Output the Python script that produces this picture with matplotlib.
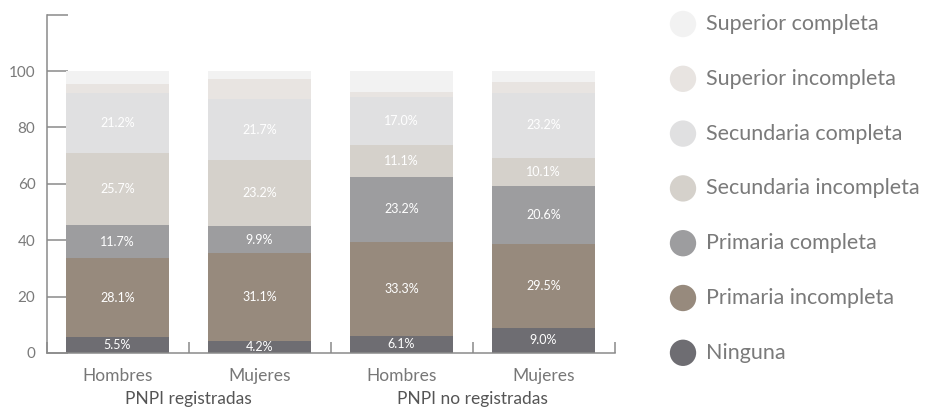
import matplotlib
matplotlib.use("Agg")
import matplotlib.pyplot as plt
import numpy as np

plt.rcParams['font.family'] = ['Lato', 'DejaVu Sans']

groups = ["Hombres", "Mujeres", "Hombres", "Mujeres"]
supergroups = ["PNPI registradas", "PNPI no registradas"]

categories = ["Ninguna", "Primaria incompleta", "Primaria completa",
              "Secundaria incompleta", "Secundaria completa",
              "Superior incompleta", "Superior completa"]
ninguna = [5.5, 4.2, 6.1, 9.0]
prim_inc = [28.1, 31.1, 33.3, 29.5]
prim_comp = [11.7, 9.9, 23.2, 20.6]
sec_inc = [25.7, 23.2, 11.1, 10.1]
sec_comp = [21.2, 21.7, 17.0, 23.2]
sup_inc = [3.2, 7.1, 1.9, 3.7]
sup_comp = [4.6, 2.8, 7.4, 3.9]
series = [ninguna, prim_inc, prim_comp, sec_inc, sec_comp, sup_inc, sup_comp]
show_labels = [True, True, True, True, True, False, False]
colors = ["#6e6d72", "#978a7d", "#9d9d9f", "#d5d1cb", "#e0e0e1", "#e8e4e1", "#f2f2f2"]
yticks = [0, 20, 40, 60, 80, 100]

W, H = 927, 409
fig = plt.figure(figsize=(W / 100, H / 100), dpi=100)
ax = fig.add_axes([46.5 / W, (H - 353) / H, (614.5 - 46.5) / W, (353 - 14.7) / H])

x = np.arange(len(groups))
bottom = np.zeros(len(groups))
for vals, col, lab in zip(series, colors, show_labels):
    vals = np.array(vals)
    ax.bar(x, vals, bottom=bottom, width=0.725, color=col, edgecolor='none', zorder=2)
    if lab:
        for xi, b, v in zip(x, bottom, vals):
            ax.text(xi, b + v / 2, f"{v:.1f}%", ha='center', va='center',
                    color='white', fontsize=9, zorder=3)
    bottom += vals

ax.set_xlim(-0.5, len(groups) - 0.5)
ax.set_ylim(0, 120)
for s in ['top', 'right']:
    ax.spines[s].set_visible(False)
for s in ['left', 'bottom']:
    ax.spines[s].set_color('#8a8a8a')
    ax.spines[s].set_linewidth(1.1)

ax.set_yticks(yticks + [120])
ax.set_yticklabels([str(t) for t in yticks] + [""])
ax.tick_params(axis='y', direction='in', length=15, width=1.1, color='#8a8a8a',
               labelcolor='#7a7a7a', labelsize=11, pad=8)
ax.set_xticks(x)
ax.set_xticklabels(groups)
ax.tick_params(axis='x', which='major', length=0, labelcolor='#777777', labelsize=12.5, pad=11)
ax.set_xticks(np.arange(len(groups) + 1) - 0.5, minor=True)
ax.tick_params(axis='x', which='minor', direction='in', length=8, width=1.1, color='#8a8a8a')

# group labels
for i, g in enumerate(supergroups):
    xc = 2 * i + 0.5
    xf = ax.transData.transform((xc, 0))[0] / W
    fig.text(xf, (H - 404) / H, g, ha='center', va='baseline',
             fontsize=12.5, color='#555555')

# legend
lax = fig.add_axes([0, 0, 1, 1])
lax.set_xlim(0, W)
lax.set_ylim(H, 0)
lax.axis('off')
ys = [24 + 54.8 * k for k in range(len(categories))]
for k, idx in enumerate(range(len(categories) - 1, -1, -1)):
    lax.scatter([683], [ys[k]], s=360, color=colors[idx], edgecolors='none')
    lax.text(706, ys[k], categories[idx], ha='left', va='center', fontsize=15.5,
             color='#7a7a7a')

fig.savefig("out.png", dpi=100)
